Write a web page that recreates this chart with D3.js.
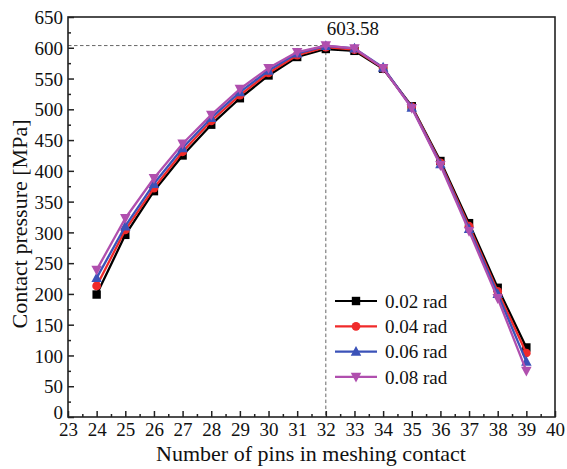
<!DOCTYPE html>
<html>
<head>
<meta charset="utf-8">
<script src="https://cdn.jsdelivr.net/npm/d3@7/dist/d3.min.js"></script>
<style>
  html, body { margin: 0; padding: 0; background: #fff; }
  svg { display: block; }
  text { font-family: "Liberation Serif", "Times New Roman", serif; fill: #111; }
</style>
</head>
<body>
<svg id="chart" width="567" height="469"></svg>
<script>
// Number of pins in meshing contact
const pins = [24, 25, 26, 27, 28, 29, 30, 31, 32, 33, 34, 35, 36, 37, 38, 39];

// Contact pressure [MPa] for each tilt angle
const p002 = [199, 296, 367, 425, 475, 518, 555, 585, 598, 595, 566, 505, 416, 315, 210, 113];
const p004 = [213, 304, 372, 431, 481, 523, 559, 588, 601, 597, 567, 504, 413, 310, 204, 104];
const p006 = [226, 310, 379, 437, 486, 528, 563, 591, 603, 599, 568, 503, 411, 306, 200, 90];
const p008 = [239, 323, 388, 444, 491, 533, 567, 593, 603.58, 599, 567, 502, 409, 302, 193, 75];

const seriesNames = ["0.02 rad", "0.04 rad", "0.06 rad", "0.08 rad"];
const seriesColors = ["#000000", "#f02a2a", "#3b52b8", "#b04fae"];
const seriesShapes = ["square", "circle", "triangle", "triangleDown"];

const xTicks = d3.range(23, 41);
const yTicks = d3.range(0, 651, 50);
const peakValue = 603.58;
const peakPin = 32;

const svg = d3.select("#chart");
const plotLeft = 68, plotRight = 555, plotTop = 17, plotBottom = 417;

const x = d3.scaleLinear().domain([23, 40]).range([plotLeft, plotRight]);
const y = d3.scaleLinear().domain([0, 650]).range([plotBottom, plotTop]);

// marker paths centred on the origin
function markerPath(shape) {
  const s = 4.2;
  if (shape === "square") return `M${-s},${-s}H${s}V${s}H${-s}Z`;
  if (shape === "circle") return d3.symbol(d3.symbolCircle, 60)();
  if (shape === "triangle") return `M0,${-s*1.35}L${s*1.25},${s}L${-s*1.25},${s}Z`;
  return `M0,${s*1.35}L${s*1.25},${-s}L${-s*1.25},${-s}Z`;
}

// reference lines through the peak
const guides = svg.append("g")
  .attr("stroke", "#555").attr("stroke-width", 0.9)
  .attr("stroke-dasharray", "3.5,2.5").attr("fill", "none");
guides.append("line")
  .attr("x1", x(23)).attr("x2", x(peakPin))
  .attr("y1", y(peakValue)).attr("y2", y(peakValue));
guides.append("line")
  .attr("x1", x(peakPin)).attr("x2", x(peakPin))
  .attr("y1", y(peakValue)).attr("y2", y(0));

svg.append("text")
  .attr("x", x(peakPin) + 1).attr("y", 35)
  .attr("font-size", 19)
  .text(peakValue.toFixed(2));

// data series
const allSeries = [p002, p004, p006, p008];
const line = d3.line().x((d, i) => x(pins[i])).y(d => y(d));
allSeries.forEach((vals, k) => {
  const g = svg.append("g");
  g.append("path")
    .attr("d", line(vals))
    .attr("fill", "none")
    .attr("stroke", seriesColors[k])
    .attr("stroke-width", 2.3)
    .attr("stroke-linejoin", "round");
  g.selectAll("path.m")
    .data(vals)
    .join("path")
    .attr("class", "m")
    .attr("d", markerPath(seriesShapes[k]))
    .attr("transform", (d, i) => `translate(${x(pins[i])},${y(d)})`)
    .attr("fill", seriesColors[k]);
});

// axes with inward ticks
const xAxis = d3.axisBottom(x).tickValues(xTicks).tickSize(-6).tickPadding(5)
  .tickFormat(d3.format("d"));
const gx = svg.append("g").attr("transform", `translate(0,${plotBottom})`).call(xAxis);
const xMinor = d3.axisBottom(x).tickValues(xTicks.slice(0, -1).map(d => d + 0.5))
  .tickSize(-3).tickFormat("");
svg.append("g").attr("transform", `translate(0,${plotBottom})`).call(xMinor);

const yAxis = d3.axisLeft(y).tickValues(yTicks).tickSize(-6).tickPadding(5)
  .tickFormat(d3.format("d"));
const gy = svg.append("g").attr("transform", `translate(${plotLeft},0)`).call(yAxis);
const yMinor = d3.axisLeft(y).tickValues(yTicks.slice(0, -1).map(d => d + 25))
  .tickSize(-3).tickFormat("");
svg.append("g").attr("transform", `translate(${plotLeft},0)`).call(yMinor);

svg.selectAll(".domain").remove();
svg.selectAll(".tick line").attr("stroke", "#222").attr("stroke-width", 1.5);
svg.selectAll(".tick text")
  .attr("font-family", "Liberation Serif, Times New Roman, serif")
  .attr("font-size", 19).attr("fill", "#111");
gy.selectAll(".tick text").attr("dy", d => d === 0 ? "0.1em" : "0.35em");
gx.selectAll(".tick text").attr("dy", "0.76em");

// plot frame
svg.append("rect")
  .attr("x", plotLeft).attr("y", plotTop)
  .attr("width", plotRight - plotLeft).attr("height", plotBottom - plotTop)
  .attr("fill", "none").attr("stroke", "#222").attr("stroke-width", 1.6);

// axis titles
svg.append("text")
  .attr("x", 311).attr("y", 461)
  .attr("text-anchor", "middle").attr("font-size", 22)
  .text("Number of pins in meshing contact");
svg.append("text")
  .attr("transform", "translate(27,224) rotate(-90)")
  .attr("text-anchor", "middle").attr("font-size", 22)
  .text("Contact pressure [MPa]");

// legend
const legend = svg.append("g");
seriesNames.forEach((name, k) => {
  const ly = 301 + k * 25.3;
  legend.append("line")
    .attr("x1", 335).attr("x2", 377).attr("y1", ly).attr("y2", ly)
    .attr("stroke", seriesColors[k]).attr("stroke-width", 2.2);
  legend.append("path")
    .attr("d", markerPath(seriesShapes[k]))
    .attr("transform", `translate(356,${ly})`)
    .attr("fill", seriesColors[k]);
  legend.append("text")
    .attr("x", 385).attr("y", ly).attr("dy", "0.35em")
    .attr("font-size", 19)
    .text(name);
});
</script>
</body>
</html>
